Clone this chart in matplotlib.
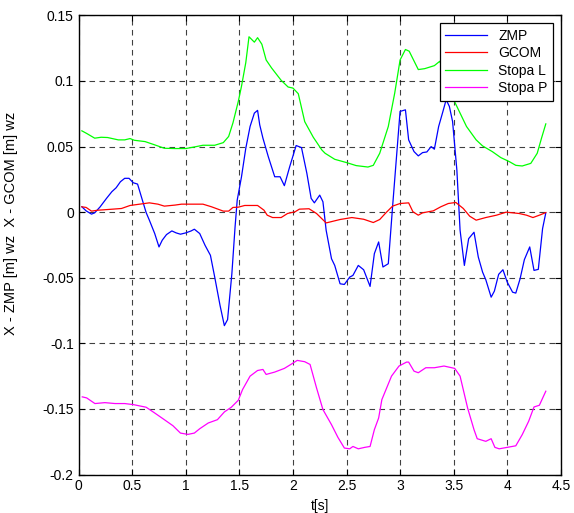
import matplotlib
matplotlib.use('Agg')
import matplotlib.pyplot as plt

plt.rcParams['font.family'] = ['Liberation Sans', 'DejaVu Sans']

# ZMP
t_zmp = [0.03, 0.07, 0.12, 0.15, 0.20, 0.26, 0.31, 0.35, 0.39, 0.43, 0.47, 0.51, 0.55, 0.59,
         0.63, 0.66, 0.71, 0.75, 0.78, 0.82, 0.87, 0.91, 0.95, 1.0, 1.05, 1.08, 1.13, 1.18,
         1.23, 1.27, 1.32, 1.36, 1.39, 1.43, 1.46, 1.48, 1.52, 1.56, 1.60, 1.64, 1.67, 1.69,
         1.72, 1.77, 1.83, 1.88, 1.92, 1.97, 2.03, 2.08, 2.13, 2.17, 2.20, 2.25, 2.28, 2.31,
         2.36, 2.39, 2.44, 2.48, 2.53, 2.56, 2.61, 2.66, 2.72, 2.76, 2.80, 2.84, 2.89, 2.93,
         3.0, 3.05, 3.08, 3.13, 3.17, 3.21, 3.25, 3.29, 3.32, 3.36, 3.40, 3.43, 3.46, 3.49,
         3.53, 3.56, 3.60, 3.64, 3.69, 3.73, 3.77, 3.80, 3.85, 3.88, 3.92, 3.96, 4.0, 4.05,
         4.08, 4.12, 4.16, 4.21, 4.25, 4.29, 4.33, 4.36]
zmp = [0.0041, 0.001, -0.0015, -0.0005, 0.004, 0.0105, 0.0156, 0.0186, 0.0232, 0.0258, 0.0258,
       0.0224, 0.0214, 0.0105, -0.0003, -0.0061, -0.0163, -0.0265, -0.0214, -0.0171, -0.0143,
       -0.0158, -0.0168, -0.0158, -0.0143, -0.013, -0.0163, -0.0253, -0.0329, -0.0495, -0.0712,
       -0.0865, -0.0819, -0.047, -0.0112, 0.0092, 0.027, 0.0487, 0.0653, 0.0755, 0.0776, 0.0666,
       0.0564, 0.0423, 0.027, 0.027, 0.0202, 0.0347, 0.0508, 0.0492, 0.0296, 0.0105, 0.0071,
       0.013, 0.0079, -0.0138, -0.0355, -0.0406, -0.0546, -0.0551, -0.0495, -0.0482, -0.0406,
       -0.0439, -0.0566, -0.0316, -0.0227, -0.0418, -0.0393, 0.0041, 0.0768, 0.078, 0.0551,
       0.0462, 0.0429, 0.0454, 0.0459, 0.05, 0.048, 0.0653, 0.0768, 0.0857, 0.0806, 0.0691,
       0.0321, -0.0138, -0.0406, -0.0202, -0.0153, -0.0342, -0.0457, -0.0515, -0.0648, -0.0602,
       -0.0474, -0.0439, -0.0533, -0.061, -0.0617, -0.0508, -0.0362, -0.0265, -0.0444, -0.0436,
       -0.0125, -0.0005]

# GCOM
t_gcom = [0.03, 0.07, 0.12, 0.18, 0.27, 0.40, 0.48, 0.57, 0.66, 0.74, 0.80, 0.90, 0.96, 1.16,
          1.24, 1.35, 1.40, 1.44, 1.49, 1.55, 1.67, 1.73, 1.76, 1.81, 1.89, 1.95, 2.02, 2.06,
          2.15, 2.22, 2.31, 2.44, 2.55, 2.66, 2.75, 2.81, 2.87, 2.93, 3.0, 3.08, 3.12, 3.17,
          3.21, 3.31, 3.38, 3.45, 3.52, 3.59, 3.65, 3.71, 3.80, 3.90, 3.99, 4.11, 4.18, 4.24,
          4.31, 4.36]
gcom = [0.0041, 0.0036, 0.0008, 0.0015, 0.002, 0.0028, 0.0051, 0.0061, 0.0071, 0.0061, 0.0046,
        0.0054, 0.0061, 0.0061, 0.0041, 0.0008, 0.0008, 0.0036, 0.0038, 0.0051, 0.0051, 0.0015,
        -0.0023, -0.0041, -0.0041, -0.001, 0.0003, 0.0023, 0.0026, -0.001, -0.0082, -0.0056,
        -0.0041, -0.0054, -0.0079, -0.0056, -0.0003, 0.0046, 0.0066, 0.0071, 0.0003, -0.0023,
        -0.0005, 0.001, 0.0041, 0.0066, 0.0074, 0.0028, -0.0031, -0.0061, -0.0041, -0.0023,
        0.0, -0.001, -0.0023, -0.0041, -0.002, -0.0003]

# Stopa L
t_sl = [0.03, 0.075, 0.15, 0.21, 0.27, 0.37, 0.43, 0.48, 0.52, 0.62, 0.71, 0.80, 0.90, 1.0,
        1.08, 1.16, 1.27, 1.35, 1.40, 1.44, 1.49, 1.52, 1.56, 1.59, 1.64, 1.67, 1.71, 1.75,
        1.80, 1.89, 1.955, 2.0, 2.05, 2.11, 2.19, 2.27, 2.30, 2.39, 2.5, 2.59, 2.70, 2.75,
        2.81, 2.89, 2.95, 3.0, 3.05, 3.085, 3.17, 3.23, 3.32, 3.37, 3.42, 3.46, 3.50, 3.56,
        3.62, 3.71, 3.77, 3.86, 3.94, 4.02, 4.08, 4.14, 4.22, 4.28, 4.32, 4.36]
stopa_l = [0.062, 0.060, 0.0564, 0.0571, 0.0569, 0.0551, 0.0551, 0.0561, 0.0548, 0.0538,
           0.0513, 0.0487, 0.0485, 0.0485, 0.0497, 0.051, 0.051, 0.053, 0.0577, 0.068, 0.0844,
           0.096, 0.114, 0.1337, 0.1296, 0.133, 0.128, 0.116, 0.110, 0.1005, 0.0954, 0.0946,
           0.0903, 0.069, 0.0571, 0.0474, 0.0449, 0.0403, 0.0378, 0.0355, 0.0344, 0.0357,
           0.0449, 0.0653, 0.0908, 0.116, 0.124, 0.1227, 0.1087, 0.1094, 0.1117, 0.115, 0.106,
           0.095, 0.0857, 0.0755, 0.0653, 0.0551, 0.0505, 0.0462, 0.0416, 0.0385, 0.0357,
           0.0352, 0.0372, 0.0449, 0.0564, 0.0673]

# Stopa P
t_sp = [0.034, 0.075, 0.152, 0.245, 0.34, 0.43, 0.51, 0.63, 0.71, 0.80, 0.88, 0.95, 1.02,
        1.08, 1.13, 1.21, 1.295, 1.36, 1.425, 1.49, 1.53, 1.60, 1.67, 1.72, 1.75, 1.83, 1.92,
        1.98, 2.04, 2.11, 2.16, 2.22, 2.28, 2.36, 2.42, 2.48, 2.53, 2.56, 2.61, 2.67, 2.72,
        2.76, 2.80, 2.83, 2.92, 2.99, 3.06, 3.08, 3.13, 3.17, 3.24, 3.32, 3.41, 3.51, 3.56,
        3.63, 3.69, 3.72, 3.80, 3.85, 3.885, 3.925, 4.0, 4.08, 4.14, 4.20, 4.25, 4.30, 4.36]
stopa_p = [-0.1408, -0.1416, -0.1459, -0.1452, -0.1459, -0.1459, -0.1467, -0.1487, -0.1531,
           -0.1582, -0.1628, -0.1684, -0.1694, -0.1684, -0.1651, -0.1607, -0.1582, -0.1523,
           -0.1487, -0.1434, -0.1352, -0.125, -0.1207, -0.1199, -0.1237, -0.1219, -0.1191,
           -0.1161, -0.113, -0.114, -0.1161, -0.1339, -0.1505, -0.162, -0.1717, -0.1798,
           -0.1804, -0.1786, -0.1804, -0.1793, -0.1786, -0.1658, -0.1569, -0.1429, -0.125,
           -0.1173, -0.1143, -0.1143, -0.1212, -0.1224, -0.1186, -0.1186, -0.1173, -0.1191,
           -0.125, -0.1492, -0.1658, -0.1727, -0.1747, -0.1727, -0.1793, -0.1804, -0.1793,
           -0.1781, -0.1696, -0.1594, -0.1485, -0.1472, -0.1365]

fig = plt.figure(figsize=(5.74, 5.13), dpi=100)
ax = fig.add_axes([0.137, 0.075, 0.840, 0.895])

ax.plot(t_zmp, zmp, color='blue', lw=0.9, label='ZMP')
ax.plot(t_gcom, gcom, color='red', lw=0.9, label='GCOM')
ax.plot(t_sl, stopa_l, color='#00ff00', lw=0.9, label='Stopa L')
ax.plot(t_sp, stopa_p, color='magenta', lw=0.9, label='Stopa P')

ax.set_xlim(0, 4.5)
ax.set_ylim(-0.2, 0.15)
ax.set_xticks([0, 0.5, 1, 1.5, 2, 2.5, 3, 3.5, 4, 4.5])
ax.set_xticklabels(['0', '0.5', '1', '1.5', '2', '2.5', '3', '3.5', '4', '4.5'])
ax.set_yticks([-0.2, -0.15, -0.1, -0.05, 0, 0.05, 0.1, 0.15])
ax.set_yticklabels(['-0.2', '-0.15', '-0.1', '-0.05', '0', '0.05', '0.1', '0.15'])
ax.tick_params(direction='in', top=True, right=True, labelsize=10, length=4)
ax.grid(True, color='k', linestyle=(0, (5, 4)), lw=0.8, alpha=0.75)
for s in ax.spines.values():
    s.set_linewidth(1.0)

ax.set_xlabel('t[s]', fontsize=10, labelpad=4)
ax.set_ylabel('X - ZMP [m] wz  X - GCOM [m] wz', fontsize=10.5)
ax.yaxis.set_label_coords(-0.125, 0.548)

leg = ax.legend(loc='upper right', fontsize=10, fancybox=False, framealpha=1,
                edgecolor='k', borderaxespad=0.55, handlelength=3.0, handletextpad=0.8,
                labelspacing=0.25, borderpad=0.4)
leg.get_frame().set_linewidth(0.9)

fig.savefig('out.png', dpi=100)
